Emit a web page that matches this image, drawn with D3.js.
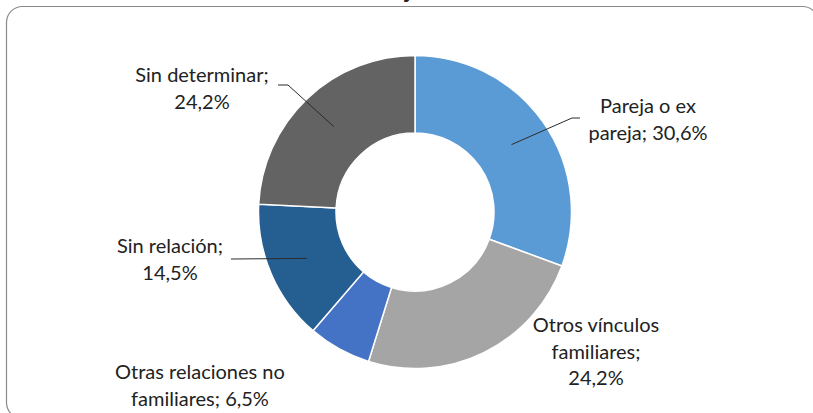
<!DOCTYPE html>
<html>
<head>
<meta charset="utf-8">
<script src="https://cdn.jsdelivr.net/npm/d3@7"></script>
<style>
  html, body { margin: 0; padding: 0; background: #fff; }
  svg { display: block; }
  text { font-family: Lato, "Open Sans", sans-serif; fill: #222; }
</style>
</head>
<body>
<svg id="chart" width="813" height="413"></svg>
<script>
// Relationship categories, clockwise from 12 o'clock
const categories = [
  "Pareja o ex pareja",
  "Otros vínculos familiares",
  "Otras relaciones no familiares",
  "Sin relación",
  "Sin determinar"
];
const values = [30.6, 24.2, 6.5, 14.5, 24.2];
const colors = ["#5B9BD5", "#A5A5A5", "#4472C4", "#255E91", "#636363"];

// Label lines for each slice (name; value%)
const labelLines = [
  ["Pareja o ex", "pareja; 30,6%"],
  ["Otros vínculos", "familiares;", "24,2%"],
  ["Otras relaciones no", "familiares; 6,5%"],
  ["Sin relación;", "14,5%"],
  ["Sin determinar;", "24,2%"]
];

const svg = d3.select("#chart");
const W = 813, H = 413;

// Rounded frame around the chart area
svg.append("rect")
  .attr("x", 6.5).attr("y", 6.5)
  .attr("width", 812).attr("height", 412)
  .attr("rx", 16).attr("ry", 16)
  .attr("fill", "none")
  .attr("stroke", "#8a8a8a")
  .attr("stroke-width", 1.2);

// Title descender peeking in at the top edge
svg.append("text")
  .attr("x", 408).attr("y", -2)
  .attr("text-anchor", "middle")
  .style("font-size", "24px")
  .style("font-weight", "bold")
  .text("j");

const cx = 415, cy = 212;
const outerR = 156.5, innerR = 79;

const color = d3.scaleOrdinal().domain(categories).range(colors);

const pie = d3.pie()
  .value(d => d.value)
  .sort(null);

const data = categories.map((c, i) => ({ name: c, value: values[i], lines: labelLines[i] }));
const arcs = pie(data);

const arc = d3.arc().innerRadius(innerR).outerRadius(outerR);

const g = svg.append("g").attr("transform", `translate(${cx},${cy})`);

g.selectAll("path.slice")
  .data(arcs)
  .join("path")
  .attr("class", "slice")
  .attr("d", arc)
  .attr("fill", d => color(d.data.name))
  .attr("stroke", "#fff")
  .attr("stroke-width", 1.5);

// Label placement (center x, first baseline y) and optional leader elbow
const labelLayout = [
  { x: 648, y: 113, lead: { x0: 580, y0: 118, x1: 572 } },
  { x: 596, y: 332 },
  { x: 200, y: 379 },
  { x: 170, y: 253, lead: { x0: 231, y0: 259, x1: 231 } },
  { x: 202, y: 82,  lead: { x0: 278, y0: 85, x1: 288 } }
];
const lineH = 26.5;

arcs.forEach((a, i) => {
  const L = labelLayout[i];
  if (L.lead) {
    const c = arc.centroid(a);
    const px = cx + c[0], py = cy + c[1];
    svg.append("path")
      .attr("d", `M${L.lead.x0},${L.lead.y0}L${L.lead.x1},${L.lead.y0}L${px},${py}`)
      .attr("fill", "none")
      .attr("stroke", "#2b2b2b")
      .attr("stroke-width", 1);
  }
  const t = svg.append("text")
    .attr("text-anchor", "middle")
    .style("font-size", "20px");
  a.data.lines.forEach((ln, k) => {
    t.append("tspan")
      .attr("x", L.x)
      .attr("y", L.y + k * lineH)
      .text(ln);
  });
});
</script>
</body>
</html>
